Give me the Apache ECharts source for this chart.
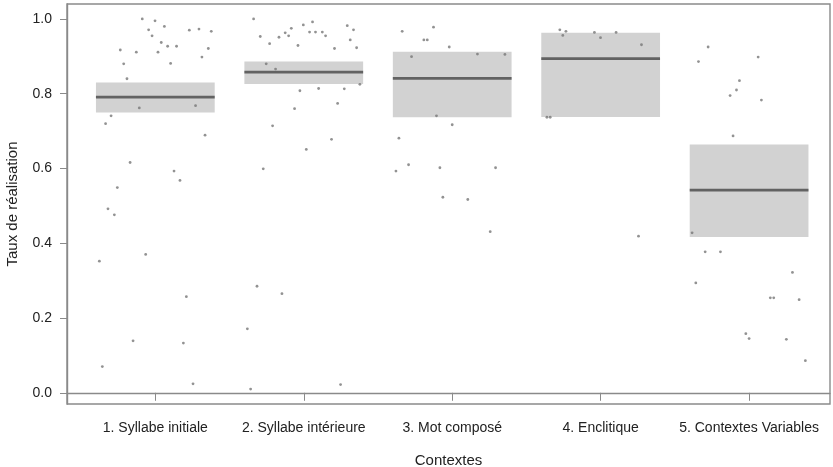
<!DOCTYPE html>
<html><head><meta charset="utf-8">
<script src="https://cdn.jsdelivr.net/npm/echarts@6/dist/echarts.min.js"></script>
<style>html,body{margin:0;padding:0;background:#fff}#c{width:833px;height:467px}</style>
</head><body><div id="c"></div>
<script>
const categories = ["1. Syllabe initiale","2. Syllabe intérieure","3. Mot composé","4. Enclitique","5. Contextes Variables"];
const yTicks = [0, 0.2, 0.4, 0.6, 0.8, 1.0];
const boxLow = [0.750, 0.826, 0.737, 0.738, 0.417];
const boxHigh = [0.830, 0.886, 0.912, 0.963, 0.664];
const medians = [0.791, 0.858, 0.841, 0.894, 0.542];
const pts1 = [[0.912,1.0],[0.998,0.995],[1.061,0.980],[0.955,0.971],[1.229,0.970],[1.294,0.973],[1.377,0.967],[0.978,0.955],[1.040,0.937],[1.083,0.927],[1.143,0.927],[0.764,0.917],[0.872,0.911],[1.018,0.911],[1.357,0.921],[1.314,0.898],[0.787,0.880],[1.103,0.881],[0.809,0.840],[0.892,0.762],[1.271,0.768],[0.702,0.741],[0.665,0.720],[1.335,0.689],[0.830,0.616],[1.126,0.593],[1.166,0.568],[0.744,0.549],[0.681,0.492],[0.724,0.476],[0.623,0.352],[0.935,0.370],[1.209,0.257],[0.850,0.139],[1.189,0.133],[0.643,0.070],[1.254,0.024]];
const pts2 = [[1.662,1.0],[1.707,0.953],[1.770,0.934],[1.833,0.951],[1.875,0.963],[1.898,0.955],[1.916,0.975],[1.997,0.984],[2.059,0.992],[2.039,0.965],[2.079,0.965],[2.125,0.965],[2.147,0.955],[1.961,0.929],[2.207,0.921],[2.293,0.982],[2.335,0.971],[2.313,0.944],[2.356,0.923],[1.747,0.880],[1.810,0.866],[1.974,0.808],[2.100,0.814],[2.273,0.813],[2.378,0.825],[2.228,0.774],[1.938,0.760],[1.790,0.714],[2.187,0.678],[2.017,0.651],[1.727,0.599],[1.685,0.285],[1.853,0.265],[1.620,0.171],[1.642,0.010],[2.248,0.022]];
const pts3 = [[2.663,0.967],[2.874,0.978],[2.809,0.944],[2.832,0.944],[2.980,0.925],[2.726,0.899],[3.170,0.906],[3.355,0.905],[2.894,0.741],[3.000,0.717],[2.641,0.681],[2.706,0.610],[2.621,0.593],[2.917,0.602],[3.292,0.602],[2.937,0.523],[3.105,0.517],[3.256,0.431]];
const pts4 = [[3.725,0.971],[3.766,0.967],[3.745,0.956],[3.958,0.964],[3.999,0.950],[4.104,0.964],[4.275,0.931],[3.638,0.737],[3.660,0.737],[4.255,0.419]];
const pts5 = [[4.724,0.925],[4.659,0.886],[5.061,0.898],[4.935,0.835],[4.915,0.810],[4.872,0.795],[5.083,0.783],[4.892,0.687],[4.616,0.428],[4.704,0.377],[4.807,0.377],[5.292,0.322],[4.641,0.294],[5.143,0.254],[5.166,0.254],[5.337,0.249],[4.978,0.158],[5.000,0.145],[5.251,0.143],[5.379,0.086]];

const catPos = categories.map((c,i)=>i+1);
const boxData = catPos.map((p,i)=>[p, boxLow[i], boxHigh[i], medians[i]]);
const HALF = 0.4;
const font = 'Liberation Sans, Arial, sans-serif';

const chart = echarts.init(document.getElementById('c'), null, {renderer:'canvas'});
chart.setOption({
  animation:false,
  backgroundColor:'#fff',
  grid:{left:67, right:3, top:4, bottom:63, outerBoundsMode:'none', containLabel:false,
    show:true, borderColor:'#8a8a8a', borderWidth:1.4, backgroundColor:'transparent'},
  xAxis:{
    type:'value', min:0.405, max:5.545,
    name:'Contextes', nameLocation:'middle', nameGap:49,
    nameTextStyle:{fontFamily:font, fontSize:15, color:'#222'},
    splitLine:{show:false},
    axisLine:{show:true, lineStyle:{color:'#8a8a8a', width:1.4}},
    axisTick:{show:true, length:8, customValues:catPos, lineStyle:{color:'#8a8a8a'}},
    axisLabel:{customValues:catPos, margin:17, fontFamily:font, fontSize:14, color:'#222',
      formatter:(v)=>categories[Math.round(v)-1]||''}
  },
  yAxis:{
    type:'value', min:-0.03, max:1.04,
    name:'Taux de réalisation', nameLocation:'middle', nameGap:47,
    nameTextStyle:{fontFamily:font, fontSize:15, color:'#222'},
    splitLine:{show:false},
    axisLine:{show:true, lineStyle:{color:'#8a8a8a', width:1.4}},
    axisTick:{show:true, length:7, customValues:yTicks, lineStyle:{color:'#8a8a8a'}},
    axisLabel:{customValues:yTicks, margin:15, fontFamily:font, fontSize:14, color:'#222',
      formatter:(v)=>v.toFixed(1)}
  },
  series:[
    {
      type:'custom', data:boxData, z:1, silent:true,
      renderItem:(params, api)=>{
        const c = api.value(0);
        const tl = api.coord([c-HALF, api.value(2)]);
        const br = api.coord([c+HALF, api.value(1)]);
        const ml = api.coord([c-HALF, api.value(3)]);
        const mr = api.coord([c+HALF, api.value(3)]);
        return {type:'group', children:[
          {type:'rect', shape:{x:tl[0], y:tl[1], width:br[0]-tl[0], height:br[1]-tl[1]}, style:{fill:'#d2d2d2'}},
          {type:'line', shape:{x1:ml[0], y1:ml[1], x2:mr[0], y2:mr[1]}, style:{stroke:'#626262', lineWidth:2.8}}
        ]};
      }
    },
    ...[pts1,pts2,pts3,pts4,pts5].map(d=>({
      type:'scatter', data:d, symbol:'circle', symbolSize:2.8, z:3, silent:true,
      itemStyle:{color:'#777'}
    }))
  ]
});
</script></body></html>
